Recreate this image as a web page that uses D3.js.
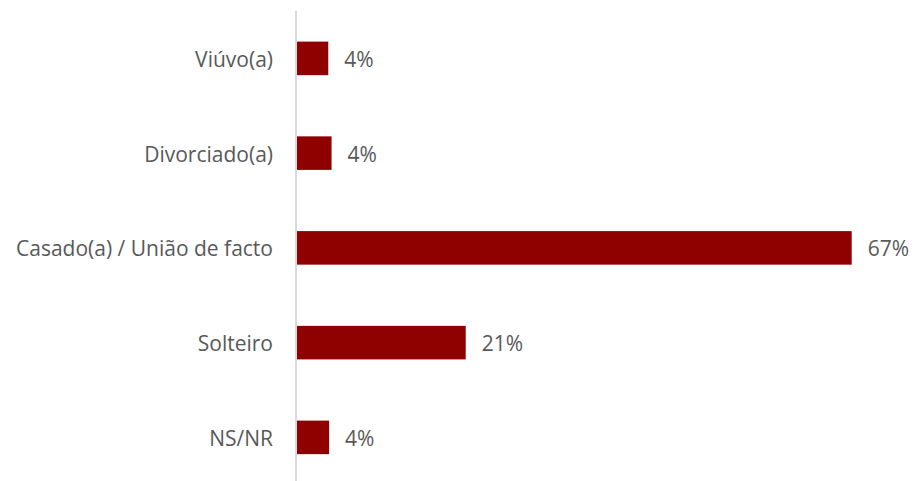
<!DOCTYPE html>
<html><head><meta charset="utf-8">
<script src="https://cdn.jsdelivr.net/npm/d3@7"></script>
<style>body{margin:0;background:#fff;} svg{display:block;}</style>
</head><body>
<svg id="chart" width="915" height="481"></svg>
<script>
const categories = ["Viúvo(a)", "Divorciado(a)", "Casado(a) / União de facto", "Solteiro", "NS/NR"];
const values = [3.8, 4.2, 67.4, 20.5, 3.9];
const valueLabels = ["4%", "4%", "67%", "21%", "4%"];

const svg = d3.select("#chart");
const axisX = 296;
const x = d3.scaleLinear().domain([0, 67.4]).range([axisX + 1, 851.7]);
const y = d3.scaleBand().domain(categories).range([11, 484.75]).paddingInner(0.646).paddingOuter(0.323);

const font = "'Open Sans', sans-serif";
const fontSize = 21;
const textColor = "#595959";

svg.selectAll("rect.bar").data(categories).join("rect")
  .attr("class", "bar")
  .attr("x", x(0))
  .attr("y", d => y(d))
  .attr("width", (d, i) => x(values[i]) - x(0))
  .attr("height", y.bandwidth())
  .attr("fill", "#8f0000");

svg.append("line")
  .attr("x1", axisX).attr("x2", axisX)
  .attr("y1", 11).attr("y2", 485)
  .attr("stroke", "#d9d9d9").attr("stroke-width", 2);

svg.selectAll("text.cat").data(categories).join("text")
  .attr("class", "cat")
  .attr("x", 273)
  .attr("y", d => y(d) + y.bandwidth() / 2)
  .attr("dy", "0.4em")
  .attr("text-anchor", "end")
  .attr("font-family", font)
  .attr("font-size", fontSize)
  .attr("fill", textColor)
  .text(d => d);

svg.selectAll("text.val").data(categories).join("text")
  .attr("class", "val")
  .attr("x", (d, i) => x(values[i]) + 16)
  .attr("y", d => y(d) + y.bandwidth() / 2)
  .attr("dy", "0.4em")
  .attr("font-family", font)
  .attr("font-size", fontSize)
  .attr("fill", textColor)
  .text((d, i) => valueLabels[i]);
</script>
</body></html>
